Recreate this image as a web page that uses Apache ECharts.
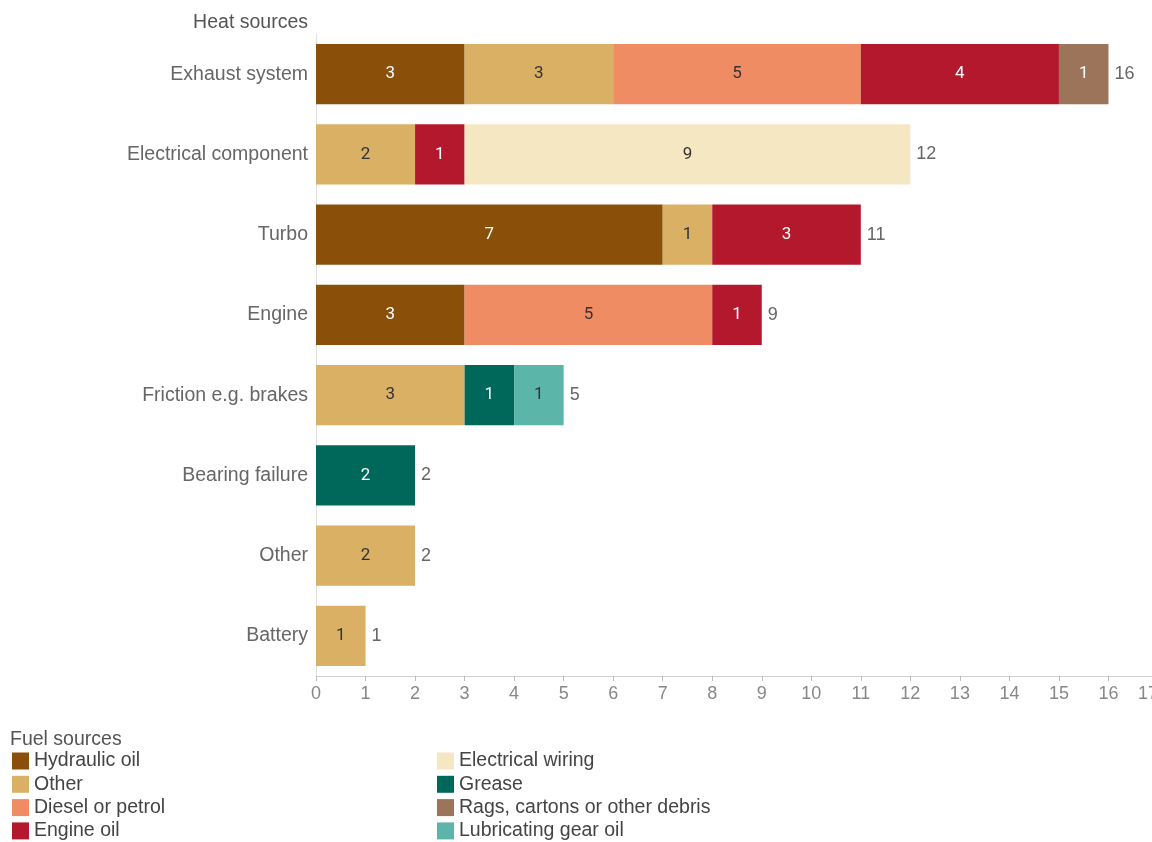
<!DOCTYPE html>
<html>
<head>
<meta charset="utf-8">
<script src="https://cdn.jsdelivr.net/npm/echarts@6/dist/echarts.min.js"></script>
<style>
html,body{margin:0;padding:0;background:#fff;overflow:hidden;}
#chart{width:1162px;height:842px;}
</style>
</head>
<body>
<div id="chart"></div>
<script>
const categories = ['Exhaust system','Electrical component','Turbo','Engine','Friction e.g. brakes','Bearing failure','Other','Battery'];
const hydraulicOil = [3, 0, 7, 3, 0, 0, 0, 0];
const otherFuel = [3, 2, 1, 0, 3, 0, 2, 1];
const dieselPetrol = [5, 0, 0, 5, 0, 0, 0, 0];
const engineOil = [4, 1, 3, 1, 0, 0, 0, 0];
const electricalWiring = [0, 9, 0, 0, 0, 0, 0, 0];
const grease = [0, 0, 0, 0, 1, 2, 0, 0];
const rags = [1, 0, 0, 0, 0, 0, 0, 0];
const lubricatingGearOil = [0, 0, 0, 0, 1, 0, 0, 0];
const xTicks = [0,1,2,3,4,5,6,7,8,9,10,11,12,13,14,15,16,17];

const seriesDefs = [
  {name:'Hydraulic oil', data:hydraulicOil, color:'#8a5009', text:'#ffffff'},
  {name:'Other', data:otherFuel, color:'#d9b064', text:'#333333'},
  {name:'Diesel or petrol', data:dieselPetrol, color:'#ef8c63', text:'#333333'},
  {name:'Engine oil', data:engineOil, color:'#b3182d', text:'#ffffff'},
  {name:'Electrical wiring', data:electricalWiring, color:'#f6e7c3', text:'#333333'},
  {name:'Grease', data:grease, color:'#00685b', text:'#ffffff'},
  {name:'Rags, cartons or other debris', data:rags, color:'#9c7459', text:'#ffffff'},
  {name:'Lubricating gear oil', data:lubricatingGearOil, color:'#5bb5a8', text:'#333333'}
];
const totals = categories.map((c,i)=>seriesDefs.reduce((s,d)=>s+d.data[i],0));

const series = seriesDefs.map(d=>({
  name:d.name, type:'bar', stack:'all', barCategoryGap:'25%',
  itemStyle:{color:d.color},
  label:{show:true, position:'inside', color:d.text, fontFamily:'Roboto', fontSize:17,
    formatter:p=>p.value ? String(p.value) : ''},
  emphasis:{disabled:true},
  data:d.data.map(v=>v===0?null:v)
}));
series.push({
  name:'Total', type:'bar', stack:'all', barCategoryGap:'25%',
  itemStyle:{color:'rgba(0,0,0,0)'},
  label:{show:true, position:'right', distance:6, color:'#666', fontFamily:'Liberation Sans', fontSize:18,
    formatter:p=>String(totals[p.dataIndex])},
  data:categories.map(()=>0)
});

const W = 1162;
const legendText = {fontFamily:'Liberation Sans', fontSize:19.5, color:'#444', lineHeight:20, padding:[0,0,0,0]};
const chart = echarts.init(document.getElementById('chart'), null, {renderer:'canvas'});
chart.setOption({
  animation:false,
  title:[
    {text:'Heat sources', right:W-308, top:13, padding:0, textStyle:{fontFamily:'Liberation Sans', fontSize:19.5, fontWeight:'normal', color:'#555'}},
    {text:'Fuel sources', left:10, top:730, padding:0, textStyle:{fontFamily:'Liberation Sans', fontSize:19.5, fontWeight:'normal', color:'#555'}}
  ],
  grid:{left:316, right:W-1158, top:34, bottom:166, containLabel:false, outerBoundsMode:'none'},
  legend:[
    {orient:'vertical', left:12, top:751, height:100, padding:0, icon:'rect', itemWidth:17, itemHeight:17, itemGap:3.3,
     data:seriesDefs.slice(0,4).map(d=>d.name), selectedMode:false, textStyle:legendText},
    {orient:'vertical', left:437, top:751, height:100, padding:0, icon:'rect', itemWidth:17, itemHeight:17, itemGap:3.3,
     data:seriesDefs.slice(4).map(d=>d.name), selectedMode:false, textStyle:legendText}
  ],
  xAxis:{
    type:'value', min:xTicks[0], max:xTicks[xTicks.length-1], interval:1,
    splitLine:{show:false},
    axisLine:{show:true, lineStyle:{color:'#d0d0d0', width:1}},
    axisTick:{show:true, length:5, lineStyle:{color:'#bbb'}},
    axisLabel:{color:'#888', fontFamily:'Liberation Sans', fontSize:18, margin:9,
      formatter:v=> v===17 ? '17\u00a0\u00a0\u00a0\u00a0' : String(v)}
  },
  yAxis:{
    type:'category', data:categories, inverse:true,
    axisLine:{show:true, lineStyle:{color:'#e0e0e0', width:1}},
    axisTick:{show:false},
    axisLabel:{color:'#666', fontFamily:'Liberation Sans', fontSize:19.5, margin:8}
  },
  series:series
});
</script>
</body>
</html>
